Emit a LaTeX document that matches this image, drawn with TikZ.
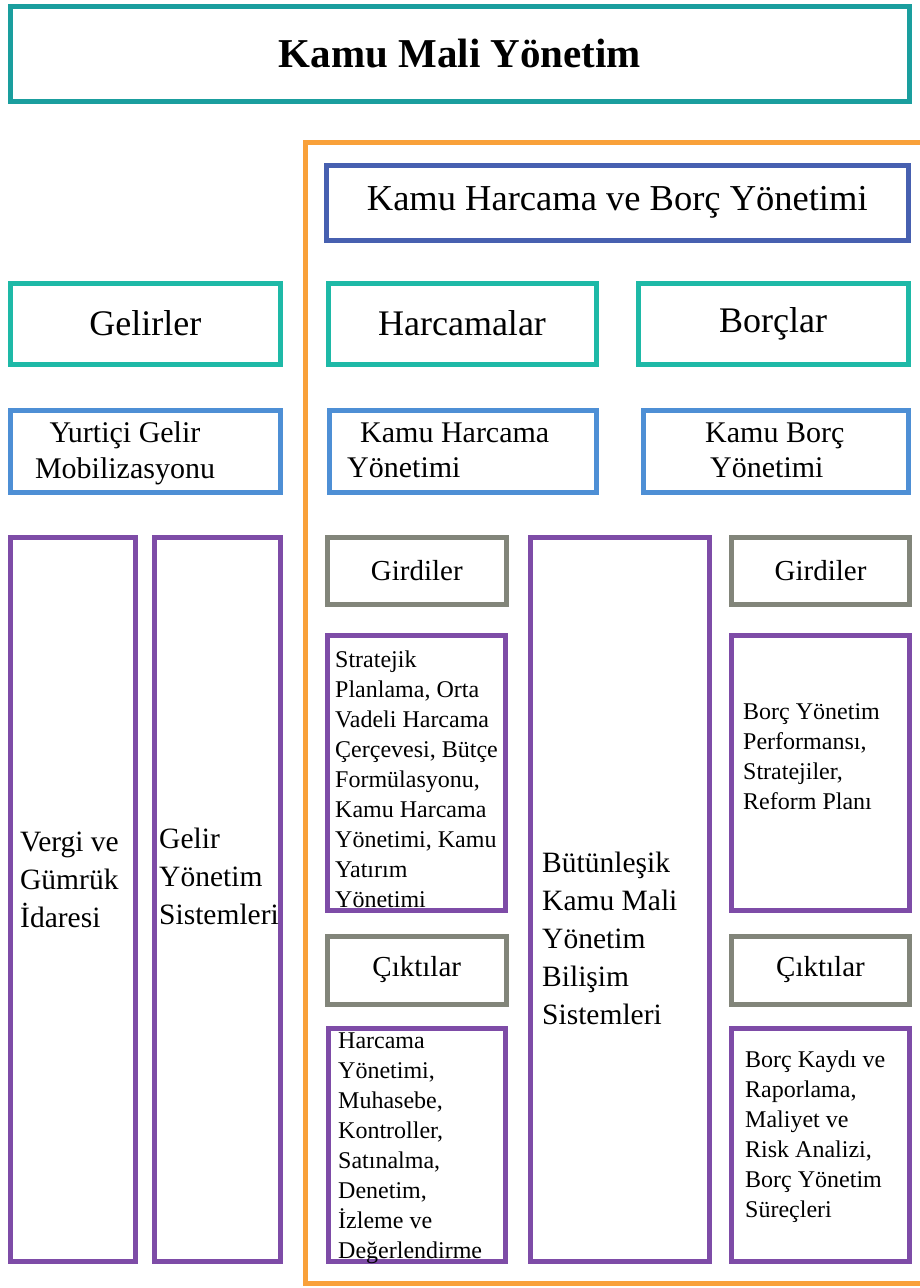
\documentclass[tikz,border=0pt]{standalone}
\usepackage{fontspec}
\setmainfont{Liberation Serif}

\definecolor{ChartTeal}{HTML}{1A9E9E}
\definecolor{ChartTurquoise}{HTML}{1EB9A7}
\definecolor{ChartNavy}{HTML}{4760B0}
\definecolor{ChartBlue}{HTML}{4E8FD5}
\definecolor{ChartPurple}{HTML}{7E4CA7}
\definecolor{ChartGray}{HTML}{82857A}
\definecolor{ChartOrange}{HTML}{F9A13A}

\tikzstyle{panel}=[rectangle, draw, line width=5pt, inner sep=0pt]
\tikzstyle{panel-top}=[panel, draw={ChartTeal}, font=\fontsize{41}{48}\selectfont\bfseries]
\tikzstyle{panel-group}=[panel, draw={ChartNavy}, font=\fontsize{36.5}{42}\selectfont]
\tikzstyle{panel-head}=[panel, draw={ChartTurquoise}, font=\fontsize{36}{42}\selectfont]
\tikzstyle{panel-sub}=[panel, draw={ChartBlue}]
\tikzstyle{panel-item}=[panel, draw={ChartPurple}]
\tikzstyle{panel-io}=[panel, draw={ChartGray}, font=\fontsize{29}{34}\selectfont]
\tikzstyle{panel-text}=[anchor=north west, inner sep=0pt, align=left]
\tikzstyle{text-mid}=[panel-text, font=\fontsize{30}{35.5}\selectfont]
\tikzstyle{text-tall}=[panel-text, font=\fontsize{29.5}{38}\selectfont]
\tikzstyle{text-small}=[panel-text, font=\fontsize{24}{30}\selectfont]

\begin{document}
\begin{tikzpicture}[x=1pt, y=-1pt]
  \useasboundingbox (0,0) rectangle (920,1288);

  \node (box:title) at (460,53.5) [panel-top, minimum width=899, minimum height=95] {Kamu Mali Yönetim};

  \draw [ChartOrange, line width=5pt] (920,142) -- (305.5,142) -- (305.5,1283.5) -- (920,1283.5);

  \node (box:harcama-borc) at (617.25,202.5) [panel-group, minimum width=581.5, minimum height=75] {Kamu Harcama ve Borç Yönetimi};

  \node (box:gelirler) at (145.25,323.5) [panel-head, minimum width=269.5, minimum height=81] {Gelirler};
  \node (box:harcamalar) at (462,323.5) [panel-head, minimum width=268, minimum height=81] {Harcamalar};
  \node (box:borclar) at (773,323.5) [panel-head, minimum width=270, minimum height=81] {Borçlar};

  \node (box:yurtici) at (145.25,451.5) [panel-sub, minimum width=269.5, minimum height=82] {};
  \node (box:kamu-harcama) at (462.5,451.5) [panel-sub, minimum width=267, minimum height=82] {};
  \node (box:kamu-borc) at (775.5,451.5) [panel-sub, minimum width=265, minimum height=82] {};
  \node (text:yurtici) at (125,421.5) [text-mid, anchor=north, align=center] {Yurtiçi Gelir\\Mobilizasyonu};
  \node (text:kamu-harcama) at (347,422.5) [text-mid] {\hspace*{13pt}Kamu Harcama\\Yönetimi};
  \node (text:kamu-borc) at (705,422.5) [text-mid] {Kamu Borç\\\hspace*{5pt}Yönetimi};

  \node (box:vergi) at (73,899.5) [panel-item, minimum width=125, minimum height=724] {};
  \node (box:gelir-yonetim) at (217.25,899.5) [panel-item, minimum width=125.5, minimum height=724] {};
  \node (box:butunlesik) at (619.75,899.5) [panel-item, minimum width=178.5, minimum height=724] {};
  \node (text:vergi) at (20,832) [text-tall] {Vergi ve\\Gümrük\\İdaresi};
  \node (text:gelir-yonetim) at (159,828) [text-tall] {Gelir\\Yönetim\\Sistemleri};
  \node (text:butunlesik) at (542,851.5) [text-tall] {Bütünleşik\\Kamu Mali\\Yönetim\\Bilişim\\Sistemleri};

  \node (box:girdiler-h) at (416.75,571) [panel-io, minimum width=178.5, minimum height=67] {Girdiler};
  \node (box:ciktilar-h) at (416.75,970) [panel-io, minimum width=178.5, minimum height=68] {Çıktılar};
  \node (box:girdiler-b) at (820.5,571) [panel-io, minimum width=178, minimum height=67] {Girdiler};
  \node (box:ciktilar-b) at (820.5,970) [panel-io, minimum width=178, minimum height=68] {Çıktılar};

  \node (box:stratejik) at (416.25,772.75) [panel-item, minimum width=177.5, minimum height=275.5] {};
  \node (box:harcama-yonetimi) at (416.5,1144.75) [panel-item, minimum width=177, minimum height=233.5] {};
  \node (box:borc-perf) at (820.5,772.75) [panel-item, minimum width=178, minimum height=275.5] {};
  \node (box:borc-kaydi) at (820.5,1144.75) [panel-item, minimum width=178, minimum height=233.5] {};
  \node (text:stratejik) at (335,650.5) [text-small] {Stratejik\\Planlama, Orta\\Vadeli Harcama\\Çerçevesi, Bütçe\\Formülasyonu,\\Kamu Harcama\\Yönetimi, Kamu\\Yatırım\\Yönetimi};
  \node (text:borc-perf) at (743,703.5) [text-small] {Borç Yönetim\\Performansı,\\Stratejiler,\\Reform Planı};
  \node (text:harcama-yonetimi) at (338,1033) [text-small] {Harcama\\Yönetimi,\\Muhasebe,\\Kontroller,\\Satınalma,\\Denetim,\\İzleme ve\\Değerlendirme};
  \node (text:borc-kaydi) at (745,1050.5) [text-small] {Borç Kaydı ve\\Raporlama,\\Maliyet ve\\Risk Analizi,\\Borç Yönetim\\Süreçleri};
\end{tikzpicture}
\end{document}
